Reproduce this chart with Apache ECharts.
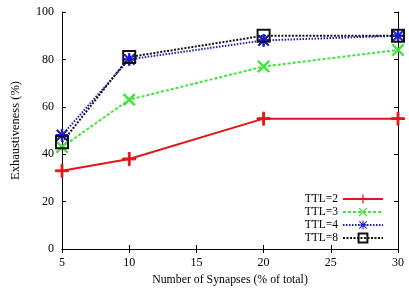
<!DOCTYPE html>
<html>
<head>
<meta charset="utf-8">
<script src="https://cdn.jsdelivr.net/npm/echarts@6/dist/echarts.min.js"></script>
<style>
  html, body { margin: 0; padding: 0; background: #fff; }
  #chart { width: 409px; height: 291px; }
</style>
</head>
<body>
<div id="chart"></div>
<script>
// values
var synapses = [5, 10, 20, 30]
var ttl2 = [33, 38, 55, 55]
var ttl3 = [43, 63, 77, 84]
var ttl4 = [48, 80, 88, 90]
var ttl8 = [45, 81, 90, 90]
var xTicks = [5, 10, 15, 20, 25, 30]
var yTicks = [0, 20, 40, 60, 80, 100]

// gnuplot style point shapes
var plusPath = 'path://M0,4.3H10V5.7H0Z M4.3,0H5.7V10H4.3Z'
var crossPath = 'path://M1,0L5,4L9,0L10,1L6,5L10,9L9,10L5,6L1,10L0,9L4,5L0,1Z'
var starPath = 'path://M0,4.4H10V5.6H0Z M4.4,0H5.6V10H4.4Z M1.2,0.4L5,4.2L8.8,0.4L9.6,1.2L5.8,5L9.6,8.8L8.8,9.6L5,5.8L1.2,9.6L0.4,8.8L4.2,5L0.4,1.2Z'

var font = 'Liberation Serif'

function pairs(vals) {
  return synapses.map(function (x, i) { return [x, vals[i]] })
}

function mkSeries(name, vals, color, type, symbol, size) {
  return {
    name: name,
    type: 'line',
    data: pairs(vals),
    symbol: symbol,
    symbolSize: size,
    showSymbol: true,
    lineStyle: { color: color, width: 2, type: type },
    itemStyle: { color: color, borderColor: color },
    emphasis: { disabled: true }
  }
}

var chart = echarts.init(document.getElementById('chart'))

var sq = mkSeries('TTL=8', ttl8, '#111', [2, 1.5], 'rect', 12)
sq.itemStyle = { color: 'rgba(0,0,0,0)', borderColor: '#111', borderWidth: 2 }

var option = {
  animation: false,
  textStyle: { fontFamily: font },
  grid: { left: 62, right: 11, top: 12, bottom: 39 },
  legend: {
    orient: 'vertical',
    right: 20,
    bottom: 42,
    align: 'right',
    itemWidth: 40,
    itemHeight: 11,
    itemGap: 1,
    textStyle: { fontFamily: font, fontSize: 11.5, color: '#000' },
    data: ['TTL=2', 'TTL=3', 'TTL=4', 'TTL=8']
  },
  xAxis: [{
    type: 'value', min: 5, max: 30, interval: 5,
    name: 'Number of Synapses (% of total)',
    nameLocation: 'middle', nameGap: 25,
    nameTextStyle: { fontFamily: font, fontSize: 11.8, color: '#000' },
    axisLine: { lineStyle: { color: '#000', width: 1 } },
    axisTick: { inside: true, length: 4, lineStyle: { color: '#000' } },
    axisLabel: { fontFamily: font, fontSize: 12, color: '#000', margin: 8 },
    splitLine: { show: false }
  }, {
    type: 'value', min: 5, max: 30, interval: 5, position: 'top',
    axisLine: { lineStyle: { color: '#000', width: 1 } },
    axisTick: { inside: true, length: 4, lineStyle: { color: '#000' } },
    axisLabel: { show: false },
    splitLine: { show: false }
  }],
  yAxis: [{
    type: 'value', min: 0, max: 100, interval: 20,
    name: 'Exhaustiveness (%)',
    nameLocation: 'middle', nameGap: 40,
    nameTextStyle: { fontFamily: font, fontSize: 12.5, color: '#000' },
    axisLine: { show: true, lineStyle: { color: '#000', width: 1 } },
    axisTick: { show: true, inside: true, length: 4, lineStyle: { color: '#000' } },
    axisLabel: { fontFamily: font, fontSize: 12, color: '#000', margin: 8 },
    splitLine: { show: false }
  }, {
    type: 'value', min: 0, max: 100, interval: 20, position: 'right',
    axisLine: { show: true, lineStyle: { color: '#000', width: 1 } },
    axisTick: { show: true, inside: true, length: 4, lineStyle: { color: '#000' } },
    axisLabel: { show: false },
    splitLine: { show: false }
  }],
  series: [
    mkSeries('TTL=2', ttl2, '#e3161b', 'solid', plusPath, 13),
    mkSeries('TTL=3', ttl3, '#3ee63a', [3, 2], crossPath, 12),
    mkSeries('TTL=4', ttl4, '#1c1cc8', [1.5, 1.5], starPath, 12),
    sq
  ]
}

chart.setOption(option)
window.onresize = function () { chart.resize() }
</script>
</body>
</html>
